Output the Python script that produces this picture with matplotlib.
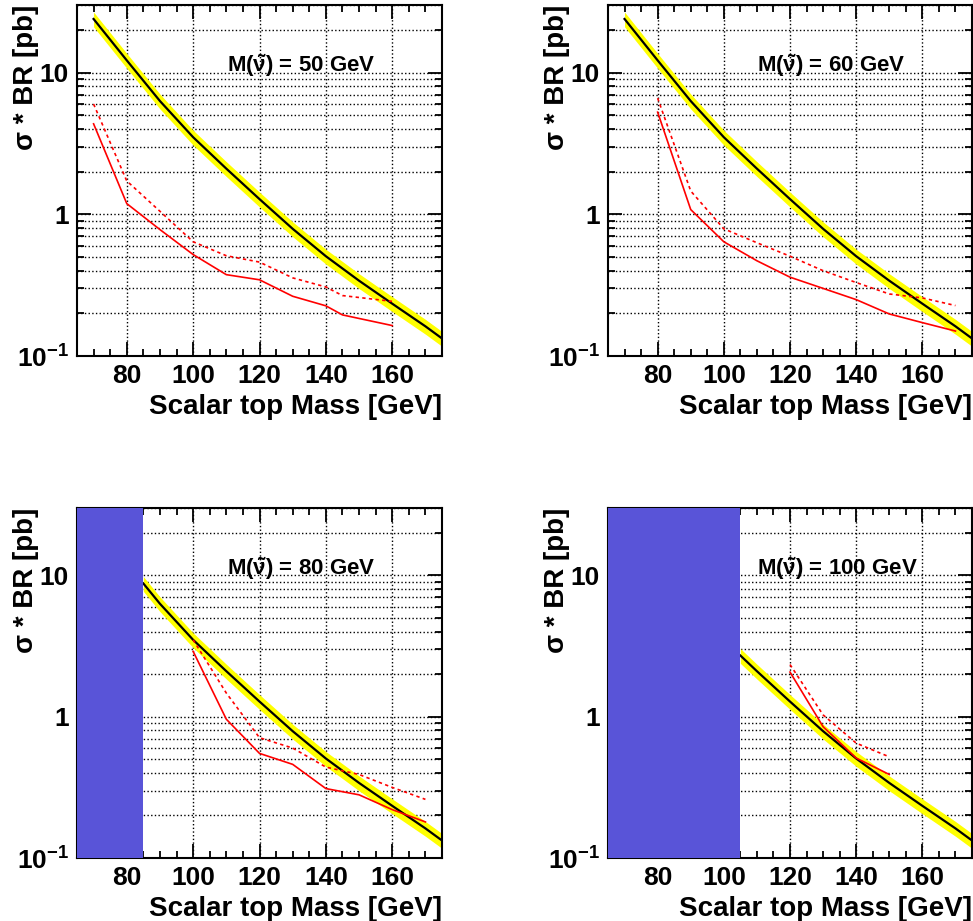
import numpy as np
import matplotlib
matplotlib.use("Agg")
import matplotlib.pyplot as plt
from matplotlib.ticker import LogLocator, FixedLocator, NullFormatter, FuncFormatter

plt.rcParams['font.family'] = ['Liberation Sans', 'DejaVu Sans']
plt.rcParams['font.weight'] = 'bold'
plt.rcParams['mathtext.fontset'] = 'custom'
plt.rcParams['mathtext.rm'] = 'Liberation Sans:bold'
plt.rcParams['mathtext.it'] = 'Liberation Sans:bold'
plt.rcParams['mathtext.bf'] = 'Liberation Sans:bold'

# theory cross-section (stop pair), same for all panels
theory_m = [70, 80, 90, 100, 110, 120, 130, 140, 150, 160, 170, 175]
theory_xs = [23.9, 12.2, 6.3, 3.5, 2.1, 1.28, 0.79, 0.506, 0.34, 0.234, 0.162, 0.133]
theory_unc = 0.12  # relative uncertainty (yellow band)

snu_masses = [50, 60, 80, 100]
excluded_upto = [None, None, 85, 105]  # kinematically forbidden region

obs_m = [
    [70, 80, 90, 100, 110, 120, 130, 140, 145, 160],
    [80, 90, 100, 110, 120, 130, 140, 150, 160, 170],
    [100, 110, 120, 130, 140, 150, 160, 170],
    [120, 130, 140, 150],
]
obs_xs = [
    [4.35, 1.19, 0.78, 0.52, 0.375, 0.345, 0.264, 0.226, 0.195, 0.164],
    [5.26, 1.08, 0.64, 0.47, 0.36, 0.30, 0.25, 0.198, 0.172, 0.15],
    [2.9, 0.96, 0.55, 0.46, 0.31, 0.28, 0.22, 0.18],
    [2.07, 0.85, 0.51, 0.39],
]
exp_m = [
    [70, 80, 90, 100, 110, 120, 130, 140, 145, 160],
    [80, 90, 100, 110, 120, 130, 140, 150, 160, 170],
    [100, 110, 120, 130, 140, 150, 160, 170],
    [120, 130, 140, 150],
]
exp_xs = [
    [6.0, 1.72, 1.05, 0.64, 0.51, 0.46, 0.356, 0.307, 0.267, 0.243],
    [6.6, 1.46, 0.79, 0.63, 0.506, 0.40, 0.33, 0.274, 0.257, 0.227],
    [3.5, 1.47, 0.71, 0.60, 0.44, 0.39, 0.316, 0.26],
    [2.34, 1.03, 0.65, 0.52],
]

W, H = 973, 921
fig = plt.figure(figsize=(W / 100, H / 100), dpi=100)
boxes = [(77, 5, 442, 356), (608, 5, 972, 356), (77, 508, 442, 858), (608, 508, 972, 858)]

tm = np.array(theory_m, dtype=float)
tx = np.array(theory_xs)


def ylab(v, pos):
    if abs(v - 0.1) < 1e-9:
        return r'$\mathregular{10^{-1}}$'
    if abs(v - 1) < 1e-9:
        return '1'
    if abs(v - 10) < 1e-9:
        return '10'
    return ''


for i, (l, t, r, b) in enumerate(boxes):
    ax = fig.add_axes([l / W, (H - b) / H, (r - l) / W, (b - t) / H])
    ax.set_yscale('log')
    ax.set_xlim(65, 175)
    ax.set_ylim(0.1, 30)

    cut = excluded_upto[i]
    if cut is not None:
        sel = tm >= cut
        xm = np.concatenate([[cut], tm[sel]])
        xv = np.exp(np.interp(xm, tm, np.log(tx)))
    else:
        xm, xv = tm, tx
    ax.fill_between(xm, xv * (1 - theory_unc), xv * (1 + theory_unc),
                    color='#ffff00', lw=0, zorder=2)
    ax.plot(xm, xv, color='black', lw=1.6, zorder=3)
    ax.plot(obs_m[i], obs_xs[i], color='#ff0000', lw=1.2, zorder=4)
    ax.plot(exp_m[i], exp_xs[i], color='#ff0000', lw=1.2, ls=(0, (2, 2)), zorder=4)
    if cut is not None:
        ax.axvspan(65, cut, color='#5954d8', lw=0, zorder=5)

    ax.xaxis.set_major_locator(FixedLocator([80, 100, 120, 140, 160]))
    ax.xaxis.set_minor_locator(FixedLocator(np.arange(65, 176, 5)))
    ax.yaxis.set_major_locator(LogLocator(base=10, numticks=10))
    ax.yaxis.set_minor_locator(LogLocator(base=10, subs=np.arange(2, 10), numticks=20))
    ax.yaxis.set_major_formatter(FuncFormatter(ylab))
    ax.yaxis.set_minor_formatter(NullFormatter())

    ax.grid(True, which='major', axis='x', color='black', ls=':', lw=1.0)
    ax.grid(True, which='both', axis='y', color='black', ls=':', lw=1.0)
    ax.set_axisbelow(True)

    ax.tick_params(which='both', direction='in', top=True, right=True,
                   labelsize=19, width=1.3, pad=6)
    ax.tick_params(which='major', length=10)
    ax.tick_params(which='minor', length=5)
    for lab in ax.get_xticklabels() + ax.get_yticklabels():
        lab.set_fontweight('bold')
    for s in ax.spines.values():
        s.set_linewidth(1.5)

    ax.set_xlabel('Scalar top Mass [GeV]', fontsize=20, fontweight='bold',
                  ha='right', x=1.0, labelpad=4)
    ax.set_ylabel('\u03c3 * BR [pb]', fontsize=20, fontweight='bold',
                  ha='right', va='center')
    ax.yaxis.set_label_coords(-0.14, 1.0)

    ax.text(0.41, 0.81, r'M($\tilde{\nu}$) = %d GeV' % snu_masses[i],
            transform=ax.transAxes, fontsize=16, fontweight='bold',
            va='baseline', zorder=6)

fig.savefig('out.png', dpi=100)
